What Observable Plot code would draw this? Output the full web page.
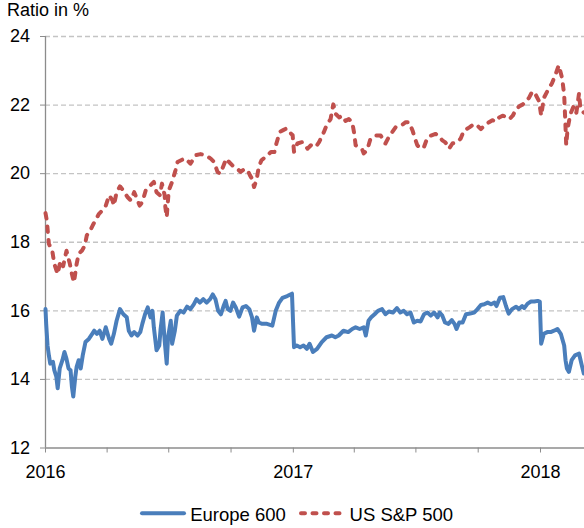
<!DOCTYPE html>
<html><head><meta charset="utf-8">
<script src="https://cdn.jsdelivr.net/npm/d3@7"></script>
<script src="https://cdn.jsdelivr.net/npm/@observablehq/plot@0.6"></script>
<style>
body{margin:0;background:#fff;font-family:"Liberation Sans",Arial,sans-serif;color:#000;}
#wrap{position:relative;width:584px;height:528px;overflow:hidden;background:#fff;}
#title{position:absolute;left:7px;top:0.5px;font-size:18px;line-height:18px;white-space:nowrap;}
#chart{position:absolute;left:0;top:26px;}
.leg{position:absolute;font-size:18.5px;line-height:18px;white-space:nowrap;}
#sw{position:absolute;left:0;top:0;}
</style></head>
<body>
<div id="wrap">
  <div id="title">Ratio in %</div>
  <div id="chart"></div>
  <svg id="sw" width="584" height="528">
    <line x1="142" y1="513.3" x2="184" y2="513.3" stroke="#4a7ebb" stroke-width="4" stroke-linecap="round"/>
    <line x1="301" y1="513.3" x2="339.5" y2="513.3" stroke="#c0504d" stroke-width="4" stroke-linecap="round" stroke-dasharray="4,7.5"/>
  </svg>
  <div class="leg" style="left:190.2px;top:506.3px;">Europe 600</div>
  <div class="leg" style="left:349.6px;top:506.3px;">US S&amp;P 500</div>
</div>
<script>
// ---- data ----
const seriesNames = ["Europe 600", "US S&P 500"];

const euDates = ["2016-01-01","2016-01-02","2016-01-04","2016-01-06","2016-01-08","2016-01-12","2016-01-14","2016-01-17","2016-01-19","2016-01-22","2016-01-26","2016-01-29","2016-02-01","2016-02-04","2016-02-07","2016-02-09","2016-02-11","2016-02-14","2016-02-16","2016-02-19","2016-02-22","2016-02-25","2016-02-29","2016-03-05","2016-03-10","2016-03-13","2016-03-17","2016-03-21","2016-03-25","2016-03-30","2016-04-04","2016-04-07","2016-04-11","2016-04-15","2016-04-20","2016-04-25","2016-04-30","2016-05-03","2016-05-07","2016-05-11","2016-05-16","2016-05-20","2016-05-23","2016-05-27","2016-05-31","2016-06-04","2016-06-07","2016-06-09","2016-06-13","2016-06-17","2016-06-19","2016-06-22","2016-06-25","2016-06-28","2016-06-30","2016-07-04","2016-07-06","2016-07-10","2016-07-13","2016-07-18","2016-07-23","2016-07-28","2016-08-02","2016-08-07","2016-08-11","2016-08-16","2016-08-21","2016-08-26","2016-08-31","2016-09-04","2016-09-08","2016-09-12","2016-09-16","2016-09-20","2016-09-23","2016-09-26","2016-09-30","2016-10-04","2016-10-08","2016-10-13","2016-10-18","2016-10-23","2016-10-28","2016-11-01","2016-11-04","2016-11-08","2016-11-11","2016-11-16","2016-11-23","2016-12-01","2016-12-06","2016-12-11","2016-12-16","2016-12-23","2016-12-30",
"2017-01-02","2017-01-06","2017-01-11","2017-01-16","2017-01-21","2017-01-25","2017-01-30","2017-02-05","2017-02-12","2017-02-19","2017-02-27","2017-03-04","2017-03-09","2017-03-16","2017-03-23","2017-03-29","2017-04-03","2017-04-09","2017-04-15","2017-04-18","2017-04-22","2017-04-26","2017-05-01","2017-05-06","2017-05-12","2017-05-17","2017-05-22","2017-05-28","2017-06-03","2017-06-08","2017-06-13","2017-06-18","2017-06-23","2017-06-28","2017-07-03","2017-07-08","2017-07-13","2017-07-18","2017-07-23","2017-07-28","2017-08-02","2017-08-05","2017-08-09","2017-08-13","2017-08-18","2017-08-23","2017-08-27","2017-08-30","2017-09-03","2017-09-08","2017-09-13","2017-09-19","2017-09-25","2017-09-30","2017-10-05","2017-10-10","2017-10-15","2017-10-20","2017-10-25","2017-10-28","2017-11-02","2017-11-07","2017-11-11","2017-11-15","2017-11-20","2017-11-26","2017-11-30","2017-12-05","2017-12-08","2017-12-13","2017-12-18","2017-12-23","2017-12-28","2017-12-31",
"2018-01-02","2018-01-06","2018-01-11","2018-01-16","2018-01-21","2018-01-26","2018-01-31","2018-02-05","2018-02-07","2018-02-09","2018-02-12","2018-02-16","2018-02-21","2018-02-27","2018-03-03","2018-03-06"];
const euValues = [16.05,15.62,14.99,14.70,14.46,14.51,14.27,14.08,13.74,14.32,14.56,14.80,14.60,14.32,14.27,13.79,13.50,14.08,14.37,14.56,14.32,14.70,15.09,15.18,15.33,15.42,15.33,15.42,15.18,15.52,15.18,15.04,15.33,15.71,16.05,15.90,15.81,15.42,15.28,15.38,15.28,15.38,15.62,15.90,16.10,15.81,16.00,15.52,14.85,14.99,15.47,15.95,15.13,14.46,15.23,15.71,15.04,15.42,15.86,16.00,15.95,16.12,16.05,16.19,16.34,16.24,16.34,16.24,16.34,16.48,16.34,16.00,15.90,16.14,16.29,16.05,16.00,16.24,16.10,15.83,16.10,16.14,16.05,15.81,15.42,15.81,15.66,15.62,15.62,15.57,16.00,16.24,16.38,16.43,16.50,
14.94,14.99,14.94,14.99,14.89,15.04,14.80,14.89,15.09,15.23,15.28,15.23,15.28,15.42,15.38,15.47,15.52,15.47,15.52,15.28,15.71,15.81,15.90,16.00,16.05,15.90,15.98,15.95,16.08,15.95,16.00,15.90,15.95,15.66,15.71,15.69,15.90,15.95,15.86,15.95,15.81,15.95,15.86,15.66,15.62,15.73,15.62,15.47,15.66,15.66,15.90,15.92,15.95,16.05,16.17,16.19,16.24,16.19,16.24,16.14,16.38,16.40,16.14,15.92,16.05,16.12,16.05,16.14,16.08,16.21,16.27,16.27,16.29,16.27,
15.04,15.33,15.38,15.38,15.42,15.47,15.33,14.99,14.56,14.32,14.22,14.56,14.70,14.75,14.41,14.17];

const usDates = ["2016-01-01","2016-01-03","2016-01-06","2016-01-11","2016-01-14","2016-01-19","2016-01-23","2016-01-27","2016-02-01","2016-02-06","2016-02-09","2016-02-12","2016-02-16","2016-02-19","2016-02-24","2016-02-28","2016-03-02","2016-03-07","2016-03-12","2016-03-20","2016-03-25","2016-03-30","2016-04-04","2016-04-09","2016-04-11","2016-04-15","2016-04-20","2016-04-25","2016-05-01","2016-05-06","2016-05-11","2016-05-16","2016-05-19","2016-05-23","2016-05-28","2016-06-04","2016-06-09","2016-06-13","2016-06-18","2016-06-21","2016-06-25","2016-06-26","2016-06-28","2016-07-01","2016-07-06","2016-07-11","2016-07-14","2016-07-21","2016-07-26","2016-08-02","2016-08-10","2016-08-17","2016-08-24","2016-09-01","2016-09-06","2016-09-11","2016-09-15","2016-09-20","2016-09-24","2016-09-28","2016-10-03","2016-10-10","2016-10-15","2016-10-20","2016-10-25","2016-10-29","2016-11-01","2016-11-04","2016-11-08","2016-11-11","2016-11-15","2016-11-21","2016-11-29","2016-12-04","2016-12-07","2016-12-12","2016-12-17","2016-12-22","2016-12-26","2016-12-31",
"2017-01-02","2017-01-07","2017-01-14","2017-01-22","2017-01-27","2017-02-03","2017-02-08","2017-02-15","2017-02-20","2017-02-25","2017-03-01","2017-03-05","2017-03-10","2017-03-14","2017-03-19","2017-03-24","2017-03-29","2017-04-01","2017-04-03","2017-04-08","2017-04-13","2017-04-15","2017-04-20","2017-04-25","2017-05-03","2017-05-10","2017-05-17","2017-05-22","2017-05-27","2017-06-01","2017-06-09","2017-06-16","2017-06-21","2017-06-26","2017-06-29","2017-07-03","2017-07-08","2017-07-13","2017-07-18","2017-07-23","2017-07-30","2017-08-04","2017-08-09","2017-08-13","2017-08-17","2017-08-19","2017-08-24","2017-08-31","2017-09-05","2017-09-10","2017-09-18","2017-09-25","2017-09-30","2017-10-05","2017-10-10","2017-10-17","2017-10-22","2017-10-27","2017-11-01","2017-11-06","2017-11-11","2017-11-16","2017-11-21","2017-11-26","2017-12-01","2017-12-06","2017-12-10","2017-12-15","2017-12-20","2017-12-25","2017-12-30",
"2018-01-02","2018-01-06","2018-01-11","2018-01-18","2018-01-23","2018-01-28","2018-02-02","2018-02-05","2018-02-06","2018-02-07","2018-02-08","2018-02-10","2018-02-14","2018-02-19","2018-02-23","2018-02-27","2018-03-01","2018-03-06"];
const usValues = [18.85,18.63,17.95,17.75,17.37,17.07,17.46,17.30,17.75,17.37,17.07,16.83,17.37,17.66,17.76,17.90,18.20,18.34,18.54,18.83,18.93,19.07,19.37,19.22,19.07,19.46,19.63,19.51,19.32,19.22,19.46,19.22,19.07,19.17,19.51,19.66,19.76,19.46,19.37,19.71,19.37,19.02,18.73,19.51,19.76,20.10,20.34,20.41,20.44,20.29,20.54,20.57,20.54,20.44,20.34,20.05,20.00,20.24,20.44,20.34,20.24,20.15,20.05,20.12,20.12,19.95,19.85,19.61,19.85,20.20,20.39,20.49,20.63,20.63,20.88,21.22,21.27,21.32,21.22,21.12,
20.64,20.88,20.92,20.73,20.83,20.78,20.92,21.21,21.45,21.59,22.02,21.73,21.64,21.69,21.54,21.59,21.50,21.16,20.83,20.78,20.69,20.59,20.69,21.02,21.11,21.11,20.88,21.07,21.21,21.35,21.40,21.50,21.50,21.26,21.07,20.83,20.73,20.78,21.05,21.11,21.16,21.11,20.97,20.92,20.83,20.73,20.88,20.92,21.02,21.26,21.35,21.45,21.40,21.30,21.40,21.50,21.56,21.52,21.64,21.69,21.66,21.59,21.69,21.88,21.97,22.02,22.11,22.21,22.40,22.30,22.11,
21.69,22.21,22.40,22.64,22.88,23.16,22.78,22.30,21.83,21.35,20.83,21.30,21.73,21.97,21.78,22.35,21.88,21.78];

const yTicks = [12, 14, 16, 18, 20, 22, 24];
const gridTicks = [14, 16, 18, 20, 22, 24];
const quarterTicks = ["2016-01-01","2016-04-01","2016-07-01","2016-10-01","2017-01-01","2017-04-01","2017-07-01","2017-10-01","2018-01-01"];
const yearTicks = ["2016-01-01","2017-01-01","2018-01-01"];
const xDomain = ["2016-01-01","2018-03-07"];

// ---- build ----
const toRows = (dates, vals) => dates.map((d, i) => ({date: new Date(d), value: vals[i]}));
const eu = toRows(euDates, euValues);
const us = toRows(usDates, usValues);
const gray = "#8c8c8c";

const chart = Plot.plot({
  width: 584,
  height: 470,
  marginLeft: 45,
  marginRight: 0,
  marginTop: 10,
  marginBottom: 48.5,
  style: {fontFamily: '"Liberation Sans", Arial, sans-serif', fontSize: "18px", color: "#000", background: "white", overflow: "visible"},
  x: {type: "utc", domain: xDomain.map(d => new Date(d))},
  y: {domain: [12, 24]},
  marks: [
    Plot.gridY(gridTicks, {stroke: "#c4c4c4", strokeOpacity: 1, strokeWidth: 1.3, strokeDasharray: "5,3"}),
    Plot.ruleY([12], {stroke: gray, strokeWidth: 1.3}),
    Plot.ruleX([new Date(xDomain[0])], {stroke: gray, strokeWidth: 1.3}),
    Plot.axisY({ticks: yTicks, tickSize: 5, tickPadding: 10.5, stroke: gray, fill: "#000", fontSize: 18, label: null}),
    Plot.axisX({ticks: quarterTicks.map(d => new Date(d)), tickSize: 5, tickFormat: () => "", stroke: gray, label: null}),
    Plot.axisX({ticks: yearTicks.map(d => new Date(d)), tickSize: 0, tickPadding: 17, tickFormat: d3.utcFormat("%Y"), fill: "#000", fontSize: 18, label: null}),
    Plot.line(eu, {x: "date", y: "value", stroke: "#4a7ebb", strokeWidth: 4, strokeLinejoin: "round", strokeLinecap: "round"}),
    Plot.line(us, {x: "date", y: "value", stroke: "#c0504d", strokeWidth: 4, strokeLinejoin: "round", strokeLinecap: "round", strokeDasharray: "5.5,8"})
  ]
});
document.getElementById("chart").appendChild(chart);
</script>
</body></html>
